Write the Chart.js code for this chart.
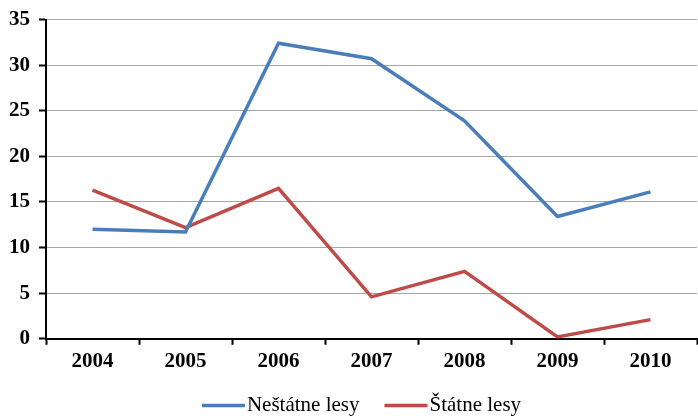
<!DOCTYPE html>
<html>
<head>
<meta charset="utf-8">
<script src="https://cdn.jsdelivr.net/npm/chart.js@4.4.1/dist/chart.umd.min.js"></script>
<style>
  html, body { margin: 0; padding: 0; background: #ffffff; }
  #wrap { width: 698px; height: 416px; }
</style>
</head>
<body>
<div id="wrap"><canvas id="c" width="698" height="416"></canvas></div>
<script>
// Years on the category axis
const years = ['2004', '2005', '2006', '2007', '2008', '2009', '2010'];

// Series values
const nestatneLesy = [12.0, 11.7, 32.4, 30.7, 23.9, 13.4, 16.1];
const statneLesy = [16.3, 12.2, 16.5, 4.6, 7.4, 0.2, 2.1];

// Series names
const seriesNames = ['Neštátne lesy', 'Štátne lesy'];

// Value axis ticks
const yTicks = [0, 5, 10, 15, 20, 25, 30, 35];

const blue = '#4a7ebb';
const red = '#be4b48';
const serif = '"Liberation Serif", "Times New Roman", serif';

// Legend drawn under the plot: a short line followed by the series name
const bottomLegend = {
  id: 'bottomLegend',
  afterDraw(chart) {
    const ctx = chart.ctx;
    const font = '21px ' + serif;
    const lineLen = 43;
    const textGap = 2;
    const itemGap = 25;
    ctx.save();
    ctx.font = font;
    const items = chart.data.datasets.map(ds => ({
      label: ds.label,
      color: ds.borderColor,
      w: lineLen + textGap + ctx.measureText(ds.label).width
    }));
    const total = items.reduce((s, it) => s + it.w, 0) + itemGap * (items.length - 1);
    const area = chart.chartArea;
    let x = (area.left + area.right) / 2 - 10 - total / 2;
    const y = 405.5;
    items.forEach(it => {
      ctx.strokeStyle = it.color;
      ctx.lineWidth = 3.5;
      ctx.beginPath();
      ctx.moveTo(x, y);
      ctx.lineTo(x + lineLen, y);
      ctx.stroke();
      ctx.fillStyle = '#000000';
      ctx.textBaseline = 'alphabetic';
      ctx.textAlign = 'left';
      ctx.fillText(it.label, x + lineLen + textGap, y + 5);
      x += it.w + itemGap;
    });
    ctx.restore();
  }
};

new Chart(document.getElementById('c'), {
  type: 'line',
  data: {
    labels: years,
    datasets: [
      {
        label: seriesNames[0],
        data: nestatneLesy,
        borderColor: blue,
        backgroundColor: blue,
        borderWidth: 3.5,
        pointRadius: 0,
        tension: 0
      },
      {
        label: seriesNames[1],
        data: statneLesy,
        borderColor: red,
        backgroundColor: red,
        borderWidth: 3.5,
        pointRadius: 0,
        tension: 0
      }
    ]
  },
  options: {
    responsive: false,
    animation: false,
    devicePixelRatio: 1,
    layout: { padding: { left: 0, right: 1, top: 14, bottom: 38 } },
    plugins: {
      legend: { display: false },
      tooltip: { enabled: false }
    },
    scales: {
      x: {
        offset: true,
        grid: {
          offset: true,
          drawOnChartArea: false,
          drawTicks: true,
          tickLength: 6,
          tickColor: '#000000',
          tickWidth: 2
        },
        border: { display: true, color: '#000000', width: 2 },
        ticks: {
          color: '#000000',
          padding: 4,
          font: { family: serif, size: 21, weight: 'bold' },
          maxRotation: 0
        }
      },
      y: {
        min: 0,
        max: 35,
        afterBuildTicks(axis) {
          axis.ticks = yTicks.map(v => ({ value: v }));
        },
        grid: {
          color: '#a6a6a6',
          lineWidth: 1,
          drawTicks: true,
          tickLength: 7,
          tickColor: '#000000',
          tickWidth: 2
        },
        border: { display: true, color: '#000000', width: 2 },
        ticks: {
          color: '#000000',
          padding: 9,
          font: { family: serif, size: 21, weight: 'bold', lineHeight: 1 }
        }
      }
    }
  },
  plugins: [bottomLegend]
});
</script>
</body>
</html>
